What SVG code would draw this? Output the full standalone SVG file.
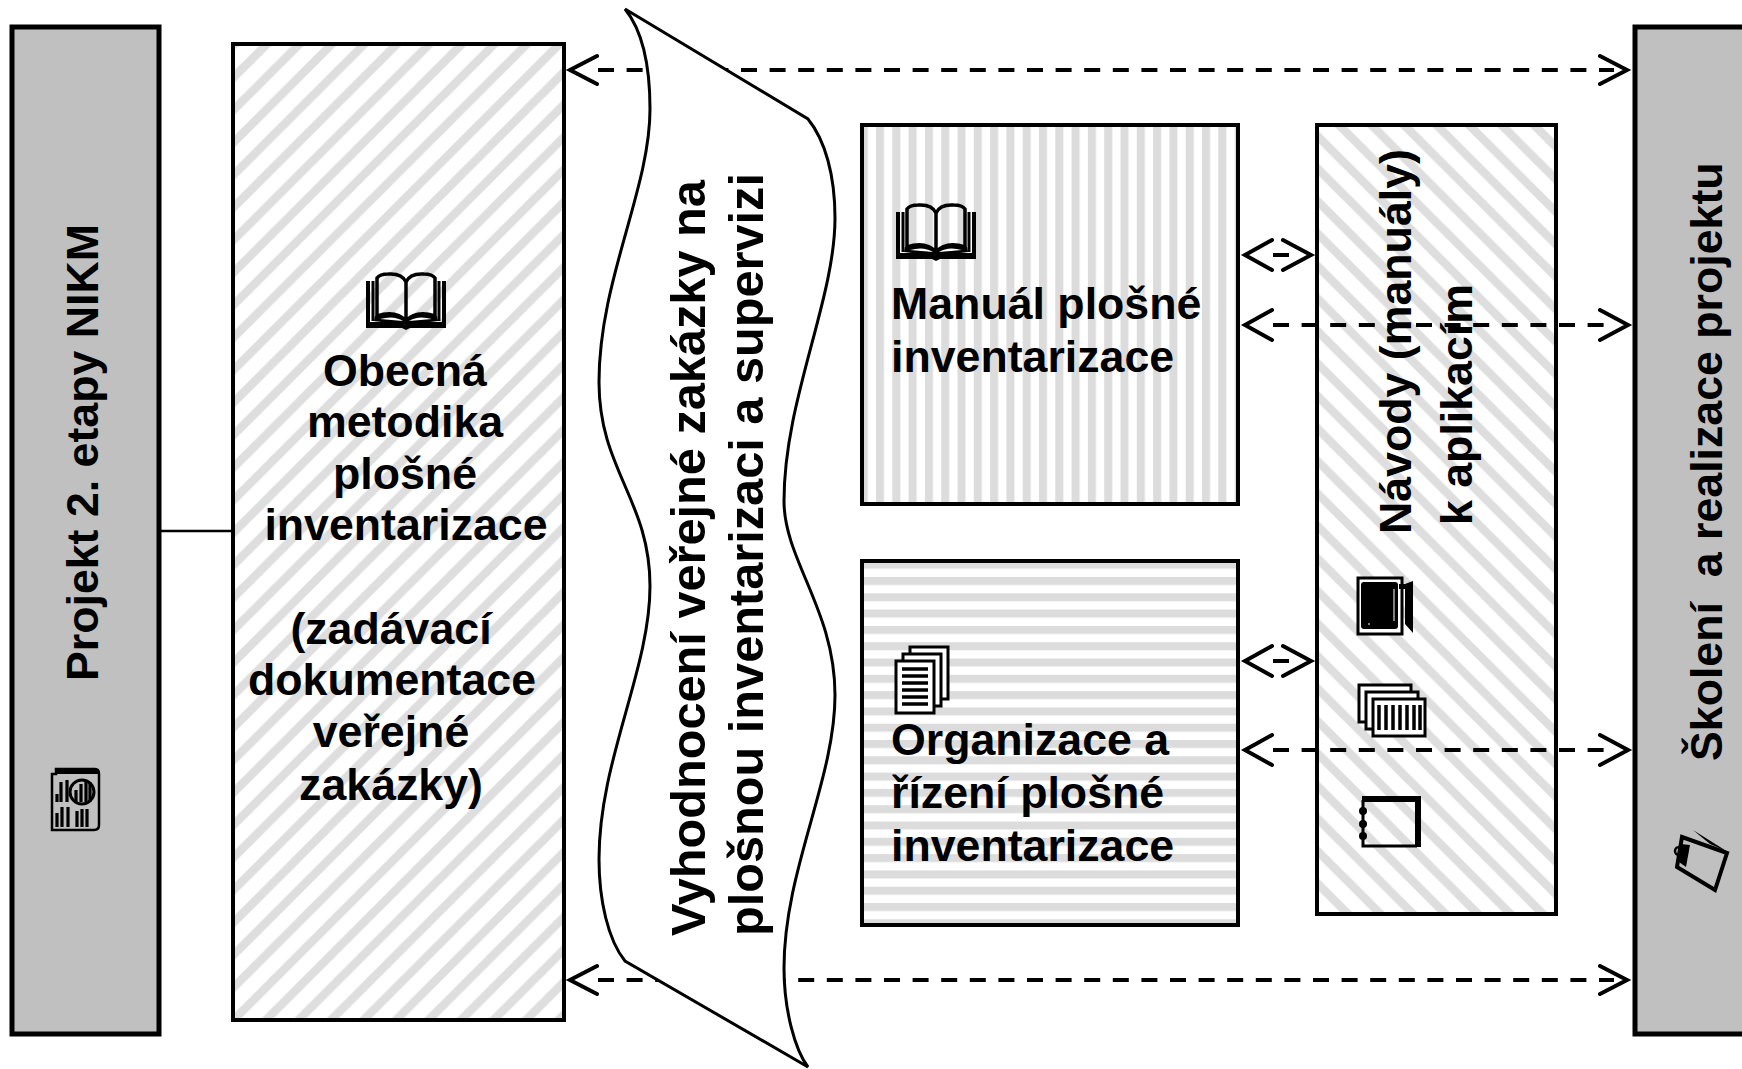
<svg xmlns="http://www.w3.org/2000/svg" width="1742" height="1069" viewBox="0 0 1742 1069">
<style>
text{font-family:"Liberation Sans",Arial,sans-serif;font-weight:700;font-size:44.7px;fill:#000}
.big{font-size:48.7px}
.box{stroke:#000;stroke-width:4}
.gray{fill:#c0c0c0;stroke:#000;stroke-width:5}
.dash{fill:none;stroke:#000;stroke-width:4;stroke-dasharray:16 12.6;stroke-linecap:butt}
.head{fill:none;stroke:#000;stroke-width:4;stroke-linecap:round;stroke-linejoin:miter}
.ic{fill:none;stroke:#000;stroke-width:3}
.icf{fill:#000}
.icw{fill:#fff;stroke:#000;stroke-width:3}
</style>
<defs>
<pattern id="up" width="32.5" height="32.5" patternUnits="userSpaceOnUse" patternTransform="translate(18.5 0)">
<rect width="32.5" height="32.5" fill="#fff"/>
<path d="M-5 5L5 -5M-5 37.5L37.5 -5M27.5 37.5L37.5 27.5" stroke="#dedede" stroke-width="8.5" fill="none"/>
</pattern>
<pattern id="down" width="32.5" height="32.5" patternUnits="userSpaceOnUse" patternTransform="translate(11.5 0)">
<rect width="32.5" height="32.5" fill="#fff"/>
<path d="M-5 27.5L5 37.5M-5 -5L37.5 37.5M27.5 -5L37.5 5" stroke="#dedede" stroke-width="8.5" fill="none"/>
</pattern>
<pattern id="vert" width="16.3" height="16" patternUnits="userSpaceOnUse" patternTransform="translate(876 0)">
<rect width="16.3" height="16" fill="#fff"/><rect width="8" height="16" fill="#dcdcdc"/>
</pattern>
<pattern id="horiz" width="16" height="16.3" patternUnits="userSpaceOnUse" patternTransform="translate(0 577)">
<rect width="16" height="16.3" fill="#fff"/><rect width="16" height="8" fill="#dcdcdc"/>
</pattern>
<g id="book">
<path class="icf" d="M0 9H4V50H36L39 53L42 50H76V9H80V56H44L40 58L36 56H0Z"/>
<path class="ic" d="M7 9V49M73 9V49" stroke-width="2"/>
<path d="M11 46V6Q14 2 22 2Q36 1 40 10Q44 1 58 2Q66 2 69 6V46M40 10V49M11 44Q30 38 40 49Q50 38 69 44" fill="none" stroke="#000" stroke-width="3.5"/>
<path class="icf" d="M9 44Q30 40 40 50L40 53L8 49ZM71 44Q50 40 40 50L40 53L72 49Z"/>
<path d="M14 47Q28 43 37 49ZM66 47Q52 43 43 49Z" fill="#fff"/>
</g>
</defs>

<g id="connectors">
<line x1="160" y1="531" x2="232" y2="531" stroke="#000" stroke-width="2.5"/>
<line class="dash" x1="598" y1="70" x2="1614" y2="70"/>
<path class="head" d="M597 56L570 70L597 84M1600 56L1627 70L1600 84"/>
<line class="dash" x1="598" y1="980" x2="1614" y2="980"/>
<path class="head" d="M597 966L570 980L597 994M1600 966L1627 980L1600 994"/>
</g>

<g id="n-projekt">
<rect class="gray" x="12" y="27" width="147" height="1007"/>
<text transform="translate(98 681) rotate(-90)">Projekt 2. etapy NIKM</text>
<g transform="translate(51 768)">
<path d="M5 1H44Q48 1 48 6V57Q48 62 43 62H1V6H5Z" fill="none" stroke="#000" stroke-width="2.5"/>
<path class="icf" d="M4 0H44Q48 0 48 6H4Z"/>
<path d="M6 34v-8M10 34v-20M16 34v-22M25 34v-12M30 34v-18M35 34v-22M39 34v-20M6 59v-14M11 59v-20M17 59v-20M26 59v-16M31 59v-18M36 59v-18" stroke="#000" stroke-width="3.2" fill="none"/>
<circle cx="31" cy="24" r="12" fill="none" stroke="#000" stroke-width="3"/>
</g>
</g>

<g id="n-obecna">
<rect class="box" x="233" y="44" width="331" height="976" fill="url(#up)"/>
<use href="#book" transform="translate(366 272)"/>
<g text-anchor="middle">
<text x="405" y="386">Obecná</text>
<text x="405" y="437">metodika</text>
<text x="405" y="489">plošné</text>
<text x="406" y="540">inventarizace</text>
<text x="391" y="644">(zadávací</text>
<text x="392" y="695">dokumentace</text>
<text x="391" y="747">veřejné</text>
<text x="391" y="800">zakázky)</text>
</g>
</g>

<g id="n-vyhodnoceni">
<path d="M625 9C642 30 650 65 650 109C650 190 599 280 599 382C599 470 650 500 650 586C650 670 599 760 599 859C599 900 608 940 625 961L808 1067C795 1050 784 1010 784 968C784 870 835 780 835 695C835 610 784 560 784 501C784 400 835 300 835 218C835 175 825 140 808 119Z" fill="#fff" stroke="#000" stroke-width="3"/>
<text class="big" transform="translate(705 936) rotate(-90)">Vyhodnocení veřejné zakázky na</text>
<text class="big" transform="translate(763 936) rotate(-90)">plošnou inventarizaci a supervizi</text>
</g>

<g id="n-manual">
<rect class="box" x="862" y="125" width="376" height="379" fill="url(#vert)"/>
<use href="#book" transform="translate(896 203)"/>
<text x="891" y="319">Manuál plošné</text>
<text x="891" y="372">inventarizace</text>
</g>

<g id="n-organizace">
<rect class="box" x="862" y="561" width="376" height="364" fill="url(#horiz)"/>
<g transform="translate(895 646)">
<rect class="icw" x="15" y="1" width="38" height="52"/>
<rect class="icw" x="8" y="8" width="38" height="52"/>
<rect class="icw" x="1" y="15" width="38" height="52" stroke-width="3"/>
<path d="M7 23H33M7 30H33M7 37H33M7 44H33M7 51H33M7 58H33" stroke="#000" stroke-width="3.5" fill="none"/>
</g>
<text x="891" y="755">Organizace a</text>
<text x="891" y="808">řízení plošné</text>
<text x="891" y="861">inventarizace</text>
</g>

<g id="n-navody">
<rect class="box" x="1317" y="125" width="239" height="789" fill="url(#down)"/>
<text transform="translate(1411 534) rotate(-90)">Návody (manuály)</text>
<text transform="translate(1472 525) rotate(-90)">k aplikacím</text>
<g transform="translate(1357 577)">
<path class="icw" d="M1 1H45V57H1Z" stroke-width="2"/>
<rect class="icf" x="4" y="5" width="37" height="47" rx="3"/>
<path class="icf" d="M42 7H48L56 4V56L48 47V12L42 12Z"/>
<path d="M37 12V44M11 47h2" stroke="#fff" stroke-width="1" fill="none"/>
</g>
<g transform="translate(1358 684)">
<rect class="icw" x="1" y="1" width="52" height="37" stroke-width="3"/>
<rect class="icw" x="8" y="8" width="52" height="37" stroke-width="3"/>
<rect class="icw" x="15" y="15" width="52" height="37" stroke-width="3"/>
<path d="M21 21V46M28 21V46M35 21V46M42 21V46M49 21V46M56 21V46M62 21V46" stroke="#000" stroke-width="3.5" fill="none"/>
</g>
<g transform="translate(1358 796)">
<path d="M5 4V50H59" fill="none" stroke="#000" stroke-width="3"/>
<path class="icf" d="M4 0H63V51H57V6H4Z"/>
<circle class="icf" cx="5" cy="15" r="4"/><circle class="icf" cx="5" cy="28" r="4"/><circle class="icf" cx="5" cy="40" r="4"/>
</g>
</g>

<g id="n-skoleni">
<rect class="gray" x="1635" y="27" width="112" height="1007"/>
<text transform="translate(1722 761) rotate(-90)" style="white-space:pre">Školení  a realizace projektu</text>
<g transform="translate(1672 828)">
<path class="icf" d="M21 2L56 24L38 16Z"/>
<path d="M10 9L55 25L43 62L5 39Z" fill="none" stroke="#000" stroke-width="4"/>
<path class="icf" d="M9 16L18 17L14 39L7 34Z"/>
<circle cx="7" cy="23" r="4" fill="none" stroke="#000" stroke-width="2.5"/>
</g>
</g>

<g id="connectors-front">
<line x1="1273" y1="255" x2="1289" y2="255" stroke="#000" stroke-width="4"/>
<path class="head" d="M1272 240L1245 255L1272 270M1283 240L1311 255L1283 270"/>
<line class="dash" x1="1273" y1="325" x2="1614" y2="325"/>
<path class="head" d="M1272 310L1245 325L1272 340M1600 310L1628 325L1600 340"/>
<line x1="1273" y1="661" x2="1289" y2="661" stroke="#000" stroke-width="4"/>
<path class="head" d="M1272 646L1245 661L1272 676M1283 646L1311 661L1283 676"/>
<line class="dash" x1="1273" y1="750" x2="1614" y2="750"/>
<path class="head" d="M1272 735L1245 750L1272 765M1600 735L1628 750L1600 765"/>
</g>
</svg>
